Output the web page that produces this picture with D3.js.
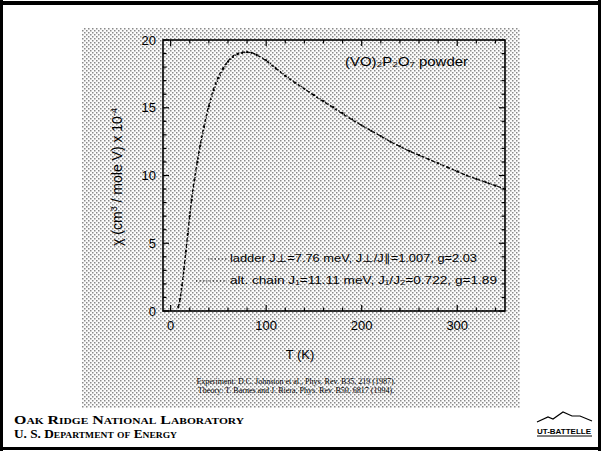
<!DOCTYPE html>
<html><head><meta charset="utf-8">
<script src="https://cdn.jsdelivr.net/npm/d3@7"></script>
<style>body{margin:0;background:#fff}svg{display:block}</style>
</head><body>
<script>
// ---- data ----
const tempK = [8,10,12,14,16,18,20,22,25,28,31,35,40,45,50,55,60,65,70,75,80,85,90,100,110,120,130,140,150,160,170,180,190,200,210,220,230,240,250,260,270,280,290,300,310,320,330,340,350];
const chiData = [0.3,0.9,1.9,3.1,4.4,5.7,7.0,8.2,9.7,11.0,12.2,13.6,15.1,16.3,17.2,17.9,18.4,18.75,18.95,19.05,19.1,19.05,18.9,18.5,17.9,17.35,16.85,16.4,15.95,15.5,15.05,14.6,14.15,13.7,13.3,12.9,12.5,12.15,11.8,11.5,11.2,10.9,10.6,10.3,10.0,9.75,9.5,9.25,9.0];
const chiLadder = [0.2,0.8,1.8,3.0,4.3,5.6,6.9,8.1,9.6,10.9,12.1,13.5,15.0,16.2,17.1,17.8,18.35,18.7,18.95,19.05,19.1,19.05,18.9,18.5,17.95,17.4,16.9,16.4,15.95,15.5,15.05,14.6,14.15,13.7,13.3,12.9,12.5,12.15,11.8,11.5,11.2,10.9,10.6,10.3,10.0,9.75,9.5,9.25,9.0];
const chiChain = [0.3,1.0,2.0,3.2,4.5,5.8,7.1,8.3,9.8,11.1,12.3,13.7,15.2,16.4,17.3,17.95,18.45,18.8,19.0,19.1,19.1,19.05,18.9,18.45,17.9,17.35,16.85,16.4,15.9,15.45,15.0,14.55,14.1,13.7,13.3,12.9,12.5,12.15,11.8,11.5,11.2,10.9,10.6,10.3,10.0,9.75,9.5,9.25,9.0];
const xTicks = [0,100,200,300];
const yTicks = [0,5,10,15,20];
const titleText = "(VO)₂P₂O₇ powder";
const legendLabels = ["ladder J⊥=7.76 meV,  J⊥/J∥=1.007, g=2.03", "alt. chain  J₁=11.11 meV, J₁/J₂=0.722, g=1.89"];
const citations = ["Experiment: D.C. Johnston et al., Phys. Rev. B35, 219 (1987).", "Theory: T. Barnes and J. Riera, Phys. Rev. B50, 6817 (1994)."];
const footer = ["Oak Ridge National Laboratory", "U. S. Department of Energy"];

const W = 601, H = 451;
const svg = d3.select("body").append("svg").attr("width", W).attr("height", H);
const defs = svg.append("defs");
const pat = defs.append("pattern").attr("id","dots").attr("width",4).attr("height",4).attr("patternUnits","userSpaceOnUse");
pat.append("rect").attr("width",4).attr("height",4).attr("fill","#fbfbfb");
pat.append("rect").attr("x",0).attr("y",0).attr("width",1.5).attr("height",1.5).attr("fill","#8a8a8a");
pat.append("rect").attr("x",2).attr("y",2).attr("width",1.5).attr("height",1.5).attr("fill","#8a8a8a");

// slide frame
svg.append("rect").attr("x",0).attr("y",0).attr("width",W).attr("height",H).attr("fill","#fff");
svg.append("rect").attr("x",0).attr("y",1).attr("width",W).attr("height",4).attr("fill","#000");
svg.append("rect").attr("x",0).attr("y",0).attr("width",3).attr("height",H).attr("fill","#000");
svg.append("rect").attr("x",W-3).attr("y",0).attr("width",3).attr("height",H).attr("fill","#000");
svg.append("rect").attr("x",0).attr("y",H-4).attr("width",W).attr("height",3).attr("fill","#000");

// gray halftone panel
svg.append("rect").attr("x",82).attr("y",28).attr("width",438).attr("height",380).attr("fill","url(#dots)");

const m = {l:163, r:505, t:40, b:311};
const x = d3.scaleLinear().domain([-8,350]).range([m.l, m.r]);
const y = d3.scaleLinear().domain([0,20]).range([m.b, m.t]);

const g = svg.append("g");
g.append("rect").attr("x",m.l).attr("y",m.t).attr("width",m.r-m.l).attr("height",m.b-m.t)
  .attr("fill","none").attr("stroke","#000").attr("stroke-width",1.6);

const xMinor = d3.range(0,351,20);
const yMinor = d3.range(0,21,1);
const tk = g.append("g").attr("stroke","#000").attr("stroke-width",1.2);
xMinor.forEach(v=>{
  const len = (v%100===0)?6:3.5;
  tk.append("line").attr("x1",x(v)).attr("x2",x(v)).attr("y1",m.b).attr("y2",m.b-len);
  tk.append("line").attr("x1",x(v)).attr("x2",x(v)).attr("y1",m.t).attr("y2",m.t+len);
});
yMinor.forEach(v=>{
  const len = (v%5===0)?6:3.5;
  tk.append("line").attr("y1",y(v)).attr("y2",y(v)).attr("x1",m.l).attr("x2",m.l+len);
  tk.append("line").attr("y1",y(v)).attr("y2",y(v)).attr("x1",m.r).attr("x2",m.r-len);
});

const fnt = "Liberation Sans, Arial, sans-serif";
g.selectAll(".xl").data(xTicks).join("text").attr("x",d=>x(d)).attr("y",330)
  .attr("text-anchor","middle").attr("font-family",fnt).attr("font-size",13).text(d=>d);
g.selectAll(".yl").data(yTicks).join("text").attr("x",156).attr("y",d=>y(d)+4.5)
  .attr("text-anchor","end").attr("font-family",fnt).attr("font-size",13).text(d=>d);

g.append("text").attr("x",300).attr("y",359).attr("text-anchor","middle").attr("font-family",fnt).attr("font-size",13).text("T (K)");
const yl = g.append("text").attr("transform","translate(122,177) rotate(-90)").attr("text-anchor","middle")
  .attr("font-family",fnt).attr("font-size",14);
yl.append("tspan").text("χ (cm");
yl.append("tspan").attr("dy",-5).attr("font-size",9).text("3");
yl.append("tspan").attr("dy",5).text(" / mole V) x 10");
yl.append("tspan").attr("dy",-5).attr("font-size",9).text("-4");

const line = d3.line().x((d,i)=>x(tempK[i])).y(d=>y(d)).curve(d3.curveMonotoneX);
g.append("path").attr("d",line(chiLadder)).attr("fill","none").attr("stroke","#000").attr("stroke-width",1.2).attr("stroke-dasharray","1.2,2");
g.append("path").attr("d",line(chiChain)).attr("fill","none").attr("stroke","#000").attr("stroke-width",1.2).attr("stroke-dasharray","3,2.5");
g.selectAll(".pt").data(chiData).join("circle").attr("cx",(d,i)=>x(tempK[i])).attr("cy",d=>y(d)).attr("r",1.1).attr("fill","#000");

g.append("text").attr("x",345).attr("y",66).attr("font-family",fnt).attr("font-size",13).attr("textLength",123).attr("lengthAdjust","spacingAndGlyphs").text(titleText);

const legY = [262, 284];
const legX0 = [208, 196];
const legLen = [247, 267];
legendLabels.forEach((t,i)=>{
  g.append("line").attr("x1",legX0[i]).attr("x2",227).attr("y1",legY[i]-3).attr("y2",legY[i]-3)
   .attr("stroke","#000").attr("stroke-width",1.2).attr("stroke-dasharray", "1.2,2.2");
  g.append("text").attr("x",230).attr("y",legY[i]).attr("font-family",fnt).attr("font-size",11)
   .attr("textLength",legLen[i]).attr("lengthAdjust","spacingAndGlyphs").text(t);
});

citations.forEach((t,i)=>{
  g.append("text").attr("x",296).attr("y",384+i*9).attr("text-anchor","middle").attr("font-family","Liberation Serif, serif").attr("font-size",8).text(t);
});

const footLen = [230, 163];
footer.forEach((t,i)=>{
  g.append("text").attr("x",14).attr("y",424+i*14).attr("font-family","Liberation Serif, serif").attr("font-weight","bold")
   .attr("font-size",12.5).attr("font-variant","small-caps").attr("textLength",footLen[i]).attr("lengthAdjust","spacingAndGlyphs").text(t);
});

const lg = g.append("g");
lg.append("path").attr("d","M537,422 L548,417 L553,419 L563,412 L572,416 L580,416 L592,421").attr("fill","none").attr("stroke","#000").attr("stroke-width",1.2);
lg.append("text").attr("x",564).attr("y",434).attr("text-anchor","middle").attr("font-family",fnt).attr("font-size",8).attr("font-weight","bold").text("UT-BATTELLE");
lg.append("line").attr("x1",537).attr("x2",592).attr("y1",436).attr("y2",436).attr("stroke","#000").attr("stroke-width",1);
</script>
</body></html>
